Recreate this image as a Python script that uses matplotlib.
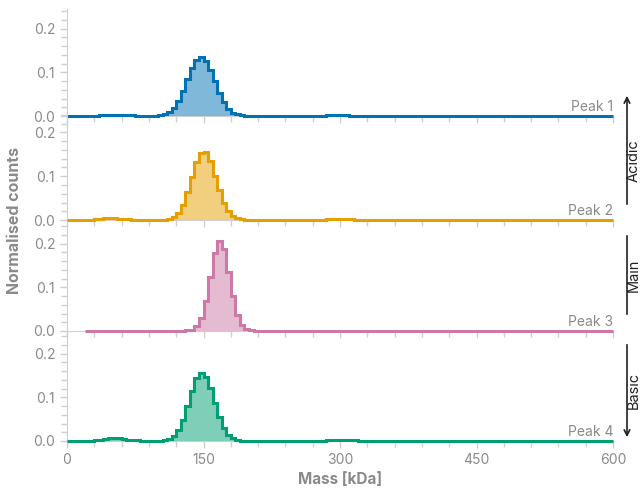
import numpy as np
import matplotlib
matplotlib.use('Agg')
import matplotlib.pyplot as plt

plt.rcParams['font.family'] = ['Inter', 'DejaVu Sans']

# normalised counts per 5 kDa bin
bin_width = 5
peak_names = ['Peak 1', 'Peak 2', 'Peak 3', 'Peak 4']
mass_start = [0, 0, 20, 0]
colors = ['#0072B2', '#E69F00', '#CC79A7', '#009E73']

peak1 = [
    0.001, 0.001, 0.001, 0.001, 0.001, 0.001, 0.001, 0.002, 0.002, 0.003,
    0.003, 0.003, 0.003, 0.002, 0.002, 0.001, 0.001, 0.001, 0.001, 0.001,
    0.002, 0.004, 0.009, 0.019, 0.035, 0.058, 0.084, 0.110, 0.128, 0.134,
    0.125, 0.105, 0.079, 0.053, 0.032, 0.017, 0.008, 0.004, 0.002, 0.001,
    0.001, 0.001, 0.001, 0.001, 0.001, 0.001, 0.001, 0.001, 0.001, 0.001,
    0.001, 0.001, 0.001, 0.001, 0.001, 0.001, 0.001, 0.002, 0.002, 0.002,
    0.002, 0.002, 0.001, 0.001, 0.001, 0.001, 0.001, 0.001, 0.001, 0.001,
    0.001, 0.001, 0.001, 0.001, 0.001, 0.001, 0.001, 0.001, 0.001, 0.001,
    0.001, 0.001, 0.001, 0.001, 0.001, 0.001, 0.001, 0.001, 0.001, 0.001,
    0.001, 0.001, 0.001, 0.001, 0.001, 0.001, 0.001, 0.001, 0.001, 0.001,
    0.001, 0.001, 0.001, 0.001, 0.001, 0.001, 0.001, 0.001, 0.001, 0.001,
    0.001, 0.001, 0.001, 0.001, 0.001, 0.001, 0.001, 0.001, 0.001, 0.001,
]
peak2 = [
    0.001, 0.001, 0.001, 0.001, 0.001, 0.001, 0.002, 0.003, 0.004, 0.004,
    0.004, 0.003, 0.002, 0.002, 0.001, 0.001, 0.001, 0.001, 0.001, 0.001,
    0.001, 0.001, 0.002, 0.007, 0.017, 0.035, 0.063, 0.098, 0.132, 0.153,
    0.156, 0.134, 0.100, 0.068, 0.040, 0.020, 0.009, 0.004, 0.002, 0.001,
    0.001, 0.001, 0.001, 0.001, 0.001, 0.001, 0.001, 0.001, 0.001, 0.001,
    0.001, 0.001, 0.001, 0.001, 0.001, 0.001, 0.001, 0.002, 0.002, 0.002,
    0.002, 0.002, 0.002, 0.001, 0.001, 0.001, 0.001, 0.001, 0.001, 0.001,
    0.001, 0.001, 0.001, 0.001, 0.001, 0.001, 0.001, 0.001, 0.001, 0.001,
    0.001, 0.001, 0.001, 0.001, 0.001, 0.001, 0.001, 0.001, 0.001, 0.001,
    0.001, 0.001, 0.001, 0.001, 0.001, 0.001, 0.001, 0.001, 0.001, 0.001,
    0.001, 0.001, 0.001, 0.001, 0.001, 0.001, 0.001, 0.001, 0.001, 0.001,
    0.001, 0.001, 0.001, 0.001, 0.001, 0.001, 0.001, 0.001, 0.001, 0.001,
]
peak3 = [
    0.001, 0.001, 0.001, 0.001, 0.001, 0.001,
    0.001, 0.001, 0.001, 0.001, 0.001, 0.001, 0.001, 0.001, 0.001, 0.001,
    0.001, 0.001, 0.001, 0.001, 0.001, 0.001, 0.002, 0.003, 0.011, 0.030,
    0.069, 0.124, 0.179, 0.205, 0.187, 0.136, 0.079, 0.037, 0.014, 0.004,
    0.002, 0.001, 0.001, 0.001, 0.001, 0.001, 0.001, 0.001, 0.001, 0.001,
    0.001, 0.001, 0.001, 0.001, 0.001, 0.001, 0.001, 0.001, 0.001, 0.001,
    0.001, 0.001, 0.001, 0.001, 0.001, 0.001, 0.001, 0.001, 0.001, 0.001,
    0.001, 0.001, 0.001, 0.001, 0.001, 0.001, 0.001, 0.001, 0.001, 0.001,
    0.001, 0.001, 0.001, 0.001, 0.001, 0.001, 0.001, 0.001, 0.001, 0.001,
    0.001, 0.001, 0.001, 0.001, 0.001, 0.001, 0.001, 0.001, 0.001, 0.001,
    0.001, 0.001, 0.001, 0.001, 0.001, 0.001, 0.001, 0.001, 0.001, 0.001,
    0.001, 0.001, 0.001, 0.001, 0.001, 0.001, 0.001, 0.001, 0.001, 0.001,
]
peak4 = [
    0.001, 0.001, 0.001, 0.001, 0.001, 0.001, 0.002, 0.003, 0.005, 0.007,
    0.007, 0.006, 0.004, 0.003, 0.002, 0.002, 0.001, 0.001, 0.001, 0.001,
    0.001, 0.002, 0.005, 0.012, 0.026, 0.049, 0.080, 0.115, 0.143, 0.155,
    0.147, 0.121, 0.087, 0.055, 0.030, 0.014, 0.006, 0.002, 0.001, 0.001,
    0.001, 0.001, 0.001, 0.001, 0.001, 0.001, 0.001, 0.001, 0.001, 0.001,
    0.001, 0.001, 0.001, 0.001, 0.001, 0.001, 0.001, 0.002, 0.002, 0.003,
    0.003, 0.003, 0.002, 0.002, 0.001, 0.001, 0.001, 0.001, 0.001, 0.001,
    0.001, 0.001, 0.001, 0.001, 0.001, 0.001, 0.001, 0.001, 0.001, 0.001,
    0.001, 0.001, 0.001, 0.001, 0.001, 0.001, 0.001, 0.001, 0.001, 0.001,
    0.001, 0.001, 0.001, 0.001, 0.001, 0.001, 0.001, 0.001, 0.001, 0.001,
    0.001, 0.001, 0.001, 0.001, 0.001, 0.001, 0.001, 0.001, 0.001, 0.001,
    0.001, 0.001, 0.001, 0.001, 0.001, 0.001, 0.001, 0.001, 0.001, 0.001,
]
series = [peak1, peak2, peak3, peak4]

W, H = 641, 493
grey = '#8a8a8a'
spine_grey = '#cfcfcf'

fig = plt.figure(figsize=(W / 100, H / 100), dpi=100)

# pixel row of the zero line for each panel
zero_rows = [116, 220, 331, 441]
ymin, ymax = -0.004, 0.245
px_per_unit = 437.5
left, right = 67, 613

for i, vals in enumerate(series):
    bottom_px = zero_rows[i] - ymin * px_per_unit
    height_px = (ymax - ymin) * px_per_unit
    ax = fig.add_axes([left / W, 1 - bottom_px / H, (right - left) / W, height_px / H])
    ax.patch.set_alpha(0)

    edges = mass_start[i] + bin_width * np.arange(len(vals) + 1)
    ax.stairs(vals, edges, fill=True, color=colors[i], alpha=0.5, lw=0, zorder=3)
    ax.stairs(vals, edges, color=colors[i], lw=2.2, zorder=4, clip_on=False)

    ax.set_xlim(0, 600)
    ax.set_ylim(ymin, ymax)
    ax.spines['top'].set_visible(False)
    ax.spines['right'].set_visible(False)
    ax.spines['bottom'].set_position(('data', 0))
    ax.spines['bottom'].set_color(spine_grey)
    ax.spines['left'].set_color(spine_grey)
    ax.spines['left'].set_bounds(0, ymax)

    ax.set_xticks([0, 150, 300, 450, 600])
    ax.set_xticks(np.arange(0, 601, 30), minor=True)
    ax.set_yticks([0.0, 0.1, 0.2])
    ax.set_yticks(np.arange(0, 0.245, 0.02), minor=True)
    ax.yaxis.set_major_formatter(plt.FormatStrFormatter('%.1f'))
    ax.tick_params(which='both', color=spine_grey, width=1, labelcolor=grey, labelsize=10)
    ax.tick_params(which='major', length=5)
    ax.tick_params(which='minor', length=4)
    if i < 3:
        ax.tick_params(axis='x', labelbottom=False)

    ax.text(600, 0.012, peak_names[i], ha='right', va='baseline', color=grey, fontsize=10)

fig.text(15 / W, 1 - 220 / H, 'Normalised counts', rotation=90, ha='center', va='center',
         color=grey, fontsize=11.5, fontweight='bold')
fig.text(340 / W, 1 - 480 / H, 'Mass [kDa]', ha='center', va='center',
         color=grey, fontsize=11, fontweight='bold')

# charge variant brackets on the right
ann = dict(xycoords='figure pixels', textcoords='figure pixels')
fig.axes[0].annotate('', xy=(627, H - 93), xytext=(627, H - 207),
                     arrowprops=dict(arrowstyle='->', color='#222222', lw=1.2), **ann)
fig.axes[0].annotate('', xy=(627, H - 233), xytext=(627, H - 317),
                     arrowprops=dict(arrowstyle='-', color='#222222', lw=1.2), **ann)
fig.axes[0].annotate('', xy=(627, H - 440), xytext=(627, H - 342),
                     arrowprops=dict(arrowstyle='->', color='#222222', lw=1.2), **ann)
for label, row in [('Acidic', 161), ('Main', 275), ('Basic', 390)]:
    fig.text(634 / W, 1 - row / H, label, rotation=90, ha='center', va='center',
             color='#222222', fontsize=10.5)

fig.savefig('out.png', dpi=100)
